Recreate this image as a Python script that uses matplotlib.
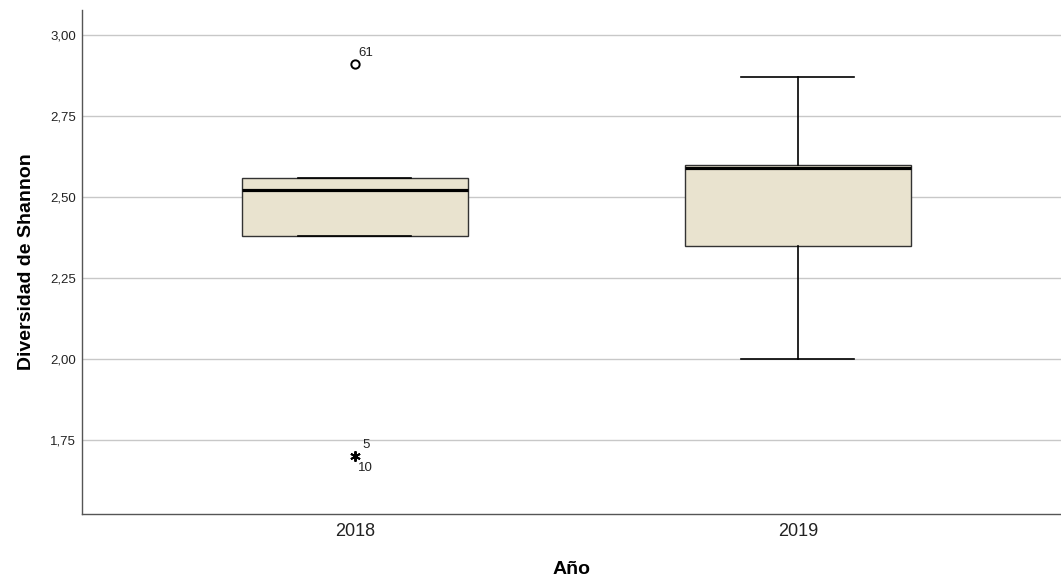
import matplotlib
matplotlib.use("Agg")
import matplotlib.pyplot as plt
from matplotlib.ticker import FuncFormatter

plt.rcParams['font.family'] = ['Liberation Sans', 'DejaVu Sans']

# Box statistics per year
years = ["2018", "2019"]
q1 = [2.38, 2.35]
medians = [2.52, 2.59]
q3 = [2.56, 2.60]
whisker_low = [2.38, 2.00]
whisker_high = [2.56, 2.87]

# Outliers (value, case label) for 2018
mild_outliers = [(2.91, "61")]
extreme_outliers = [(1.70, "5", "10")]

y_ticks = [1.75, 2.00, 2.25, 2.50, 2.75, 3.00]

fig = plt.figure(figsize=(10.61, 5.79), dpi=100)
ax = fig.add_axes([0.0773, 0.1123, 0.9227, 0.8705])

stats = []
for i, y in enumerate(years):
    stats.append(dict(label=y, q1=q1[i], med=medians[i], q3=q3[i],
                      whislo=whisker_low[i], whishi=whisker_high[i], fliers=[]))

ax.bxp(stats, positions=[0, 1], widths=0.51, patch_artist=True,
       showfliers=False,
       boxprops=dict(facecolor="#E9E3CF", edgecolor="#333333", linewidth=1.0),
       medianprops=dict(color="black", linewidth=2.3),
       whiskerprops=dict(color="black", linewidth=1.2),
       capprops=dict(color="black", linewidth=1.2),
       capwidths=0.255, zorder=3)

# Outlier markers and case labels
for val, lab in mild_outliers:
    ax.plot(0.0, val, marker="o", markersize=6, markerfacecolor="white",
            markeredgecolor="black", markeredgewidth=1.4, zorder=4)
    ax.annotate(lab, (0.0, val), xytext=(2.5, 3.5), textcoords="offset points",
                fontsize=9.5, ha="left", va="bottom", color="#222222")
for val, lab_top, lab_bot in extreme_outliers:
    ax.plot(0.0, val, marker=(6, 2, 0), markersize=7.5, color="black",
            markeredgewidth=1.4, zorder=4)
    ax.annotate(lab_top, (0.0, val), xytext=(5.5, 4), textcoords="offset points",
                fontsize=9.5, ha="left", va="bottom", color="#222222")
    ax.annotate(lab_bot, (0.0, val), xytext=(2.5, -4), textcoords="offset points",
                fontsize=9.5, ha="left", va="top", color="#222222")

ax.set_xlim(-0.616, 1.594)
ax.set_ylim(1.522, 3.077)
ax.set_yticks(y_ticks)
ax.yaxis.set_major_formatter(FuncFormatter(lambda v, p: f"{v:.2f}".replace(".", ",")))
ax.grid(axis="y", color="#c8c8c8", linewidth=1.0, zorder=0)
ax.set_axisbelow(True)

for side in ["top", "right"]:
    ax.spines[side].set_visible(False)
for side in ["left", "bottom"]:
    ax.spines[side].set_color("#555555")
    ax.spines[side].set_linewidth(1.0)

ax.tick_params(axis="y", length=0, labelsize=9.5, pad=4.5, labelcolor="#222222")
ax.tick_params(axis="x", length=0, labelsize=13, pad=6.5, labelcolor="#222222")

ax.set_xlabel("Año", fontsize=14, fontweight="bold", labelpad=15)
ax.set_ylabel("Diversidad de Shannon", fontsize=14, fontweight="bold", labelpad=11)

fig.savefig("out.png", dpi=100)
